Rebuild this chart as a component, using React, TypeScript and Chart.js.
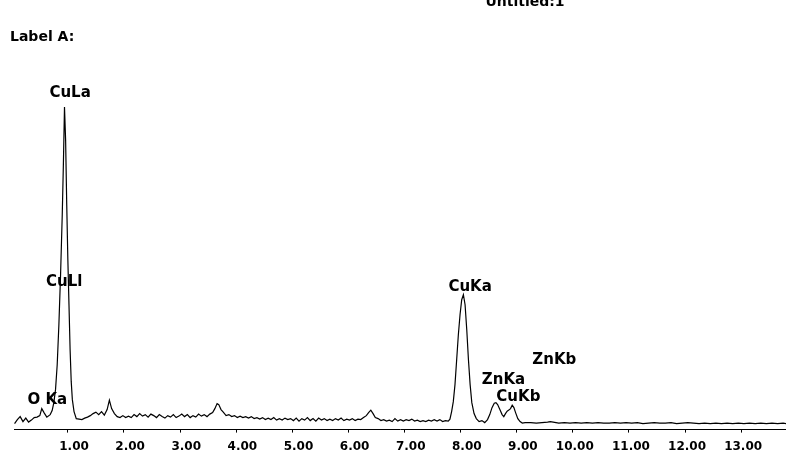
import React, { useEffect, useRef } from "react";
import { Chart, registerables } from "chart.js";

Chart.register(...registerables);

// Energy axis (keV) of the sampled spectrum points
const energyKeV: number[] = [
  // low-energy background + O Ka
  0.05, 0.10, 0.15, 0.20, 0.25, 0.30, 0.35, 0.40, 0.45, 0.50, 0.535, 0.58, 0.625, 0.685,
  // Cu L peak
  0.72, 0.75, 0.78, 0.81, 0.84, 0.87, 0.90, 0.92, 0.94, 0.96, 0.98, 1.00, 1.02, 1.04, 1.06, 1.08, 1.11, 1.15,
  // background with Si bump
  1.20, 1.25, 1.30, 1.35, 1.40, 1.45, 1.50, 1.55, 1.60, 1.65, 1.70, 1.74, 1.78, 1.83, 1.88, 1.93, 1.98,
  2.03, 2.08, 2.13, 2.18, 2.23, 2.28, 2.33, 2.38, 2.43, 2.48, 2.53, 2.58, 2.63, 2.68, 2.73, 2.78, 2.83, 2.88,
  2.93, 2.98, 3.03, 3.08, 3.13, 3.18, 3.23, 3.28, 3.33, 3.38, 3.43, 3.48, 3.53,
  // Ca bump
  3.58, 3.62, 3.66, 3.69, 3.73, 3.77,
  3.82, 3.87, 3.92, 3.97, 4.02, 4.07, 4.12, 4.17, 4.22, 4.27,
  4.32, 4.37, 4.42, 4.47, 4.52, 4.57, 4.62, 4.67, 4.72, 4.77,
  4.82, 4.87, 4.92, 4.97, 5.02, 5.07, 5.12, 5.17, 5.22, 5.27,
  5.32, 5.37, 5.42, 5.47, 5.52, 5.57, 5.62, 5.67, 5.72, 5.77,
  5.82, 5.87, 5.92, 5.97, 6.02, 6.07, 6.12, 6.17, 6.22, 6.27,
  // Fe bump
  6.32, 6.36, 6.40, 6.44, 6.48,
  6.53, 6.58, 6.63, 6.68, 6.73, 6.78, 6.83, 6.88, 6.93, 6.98,
  7.03, 7.08, 7.13, 7.18, 7.23, 7.28, 7.33, 7.38, 7.43, 7.48,
  7.53, 7.58, 7.63, 7.68, 7.73, 7.78,
  // Cu Ka peak
  7.81, 7.84, 7.87, 7.90, 7.93, 7.96, 7.99, 8.02, 8.05, 8.08, 8.11, 8.14, 8.17, 8.20, 8.24, 8.28, 8.33, 8.38, 8.43, 8.48,
  // Zn Ka / Cu Kb
  8.52, 8.56, 8.60, 8.63, 8.66, 8.70, 8.74, 8.77, 8.80, 8.83, 8.86, 8.89, 8.92, 8.95, 8.98, 9.02, 9.06, 9.10, 9.15,
  // high-energy background
  9.25, 9.35, 9.45, 9.55, 9.60, 9.65, 9.75, 9.85, 9.95, 10.05, 10.15, 10.25, 10.35, 10.45, 10.55, 10.65,
  10.75, 10.85, 10.95, 11.05, 11.15, 11.25, 11.35, 11.45, 11.55, 11.65, 11.75, 11.85, 11.95, 12.05,
  12.15, 12.25, 12.35, 12.45, 12.55, 12.65, 12.75, 12.85, 12.95, 13.05, 13.15, 13.25, 13.35, 13.45,
  13.55, 13.65, 13.75, 13.80,
];

// Counts, one per energy above
const counts: number[] = [
  6, 10, 13, 8, 11.5, 7.5, 9.5, 12, 12.5, 14, 21, 16.5, 12.5, 15,
  19, 27, 40, 65, 105, 155, 215, 265, 323, 290, 225, 170, 125, 80, 48, 30, 18, 11,
  10.5, 10, 11.5, 12.5, 14, 16, 17.5, 15, 18, 14.5, 20, 29.5, 21, 16, 13, 12, 14,
  12, 13.5, 12, 15, 13, 16, 13.5, 15, 12.5, 15.5, 14, 12, 15, 13, 11.5, 14, 12.5, 15,
  12, 13.5, 15.5, 13, 15, 12, 14, 12.5, 15.5, 13.5, 15, 13, 15.5,
  17, 21, 26, 25, 20, 17.5,
  14, 15, 13, 14, 12, 13.5, 12, 13, 11.5, 13,
  11, 12, 10.5, 12, 10, 11.5, 10, 12, 9.5, 11,
  9.5, 11.5, 10, 11, 9, 11.5, 8.5, 11, 9.5, 12,
  9, 11, 8.5, 11.5, 9.5, 11, 9, 10.5, 9, 11,
  9.5, 11.5, 9, 10.5, 9.5, 11, 9, 10.5, 10, 12,
  14, 17, 19.5, 16, 12,
  11, 9, 10, 8.5, 9.5, 8, 11, 8.5, 10, 8.5,
  10, 9, 10.5, 8.5, 9.5, 8, 9, 8, 9.5, 8.5,
  10, 8.5, 10, 8, 9, 8.5,
  10.5, 18, 28, 45, 70, 95, 115, 130, 135, 125, 100, 70, 45, 27, 16, 11, 8, 9, 7, 10,
  15, 22, 26.5, 27, 25, 20, 15, 13, 16, 18.5, 19.5, 21, 24.5, 22, 17, 11, 8, 6.5, 7,
  7, 6.5, 7, 7.5, 8, 7.5, 6.5, 7, 6.5, 7, 6.5, 7, 6.5, 7, 6.5, 6.5,
  7, 6.5, 7, 6.5, 7, 6, 6.5, 7, 6.5, 6.5, 7, 6, 6.5, 7,
  6.5, 6, 6.5, 6, 6.5, 6, 6.5, 6, 6.5, 6, 6.5, 6, 6.5, 6,
  6.5, 6, 6.5, 6,
];

// Peak identification labels and where they sit (keV, counts)
const peakNames: string[] = ["CuLa", "CuLl", "O Ka", "CuKa", "ZnKa", "CuKb", "ZnKb"];
const peakLabelKeV: number[] = [1.04, 0.935, 0.635, 8.17, 8.765, 9.03, 9.67];
const peakLabelCounts: number[] = [337, 148, 30, 143, 50, 33, 70];

const xMin = 0.04;
const xMax = 13.8;
const yMax = 390;
const chartTitle = "Untitled:1";
const labelText = "Label A:";

const textPlugin = {
  id: "spectrumText",
  afterDatasetsDraw(chart: any) {
    const { ctx, scales } = chart;
    const xs = scales.x;
    const ys = scales.y;
    ctx.save();
    ctx.fillStyle = "#000";
    ctx.font = 'bold 15px "DejaVu Sans"';
    ctx.textAlign = "center";
    ctx.textBaseline = "middle";
    peakNames.forEach((name, i) => {
      ctx.fillText(name, xs.getPixelForValue(peakLabelKeV[i]), ys.getPixelForValue(peakLabelCounts[i]));
    });
    ctx.font = 'bold 14px "DejaVu Sans"';
    ctx.textAlign = "center";
    ctx.textBaseline = "alphabetic";
    ctx.fillText(chartTitle, 525, 6);
    ctx.font = 'bold 14px "DejaVu Sans"';
    ctx.textAlign = "left";
    ctx.textBaseline = "middle";
    ctx.fillText(labelText, 10, 37);
    ctx.restore();
  },
};

export default function App() {
  const canvasRef = useRef<HTMLCanvasElement | null>(null);

  useEffect(() => {
    if (!canvasRef.current) return;
    const points = energyKeV.map((e, i) => ({ x: e, y: counts[i] }));
    const chart = new Chart(canvasRef.current, {
      type: "line",
      data: {
        datasets: [
          {
            data: points,
            borderColor: "#000",
            borderWidth: 1.2,
            pointRadius: 0,
            tension: 0,
            fill: false,
          },
        ],
      },
      options: {
        animation: false,
        responsive: true,
        maintainAspectRatio: false,
        layout: { padding: { top: 40, left: 14, right: 0, bottom: -2 } },
        plugins: {
          legend: { display: false },
          tooltip: { enabled: false },
          title: { display: false },
        },
        scales: {
          x: {
            type: "linear",
            min: xMin,
            max: xMax,
            border: { display: true, color: "#000", width: 1 },
            grid: { display: true, drawOnChartArea: false, drawTicks: true, tickLength: 3, color: "#000" },
            ticks: {
              stepSize: 1,
              includeBounds: false,
              autoSkip: false,
              maxRotation: 0,
              align: "end",
              labelOffset: 21,
              padding: 7,
              color: "#000",
              font: { family: "DejaVu Sans", size: 12, weight: "bold", lineHeight: 1.2 },
              callback: (v: any) => Number(v).toFixed(2),
            },
          },
          y: {
            display: false,
            min: 0,
            max: yMax,
          },
        },
      },
      plugins: [textPlugin],
    });
    return () => chart.destroy();
  }, []);

  return (
    <div style={{ position: "fixed", left: 0, top: 0, width: 786, height: 459, background: "#fff" }}>
      <canvas ref={canvasRef} />
    </div>
  );
}
